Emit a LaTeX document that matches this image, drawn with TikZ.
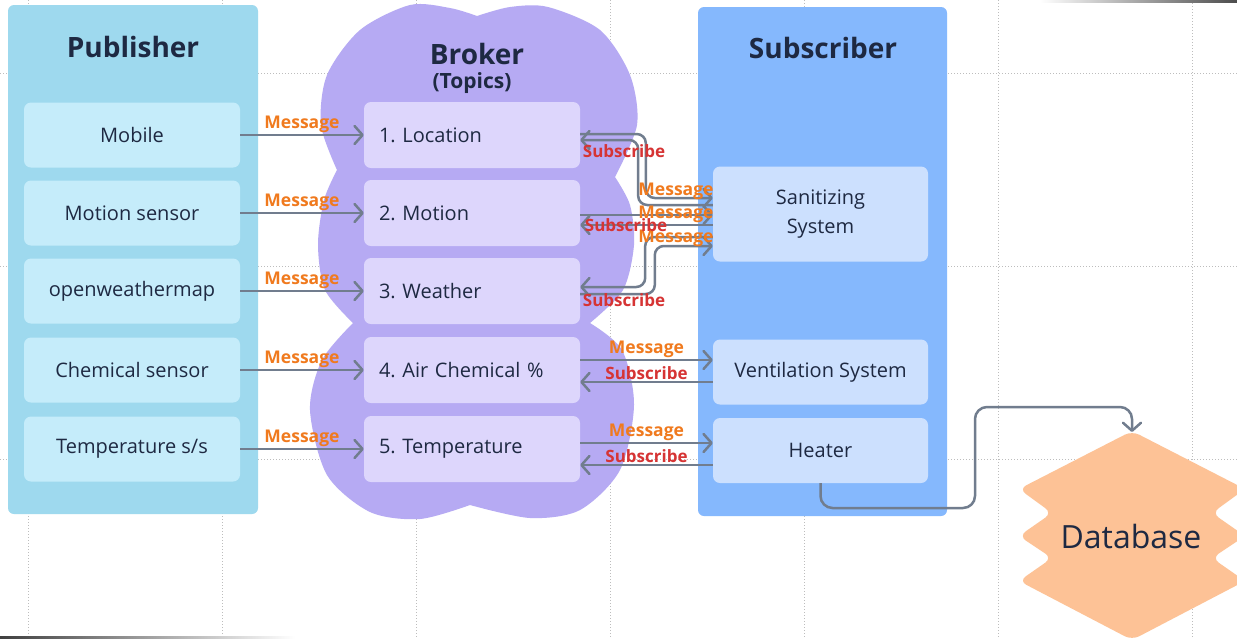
\documentclass[tikz,border=0pt]{standalone}
\usepackage{fontspec}
\setmainfont{Open Sans}
\usetikzlibrary{arrows.meta,calc}

\definecolor{pubpanel}{HTML}{9ED9EE}
\definecolor{pubitem}{HTML}{C5ECFA}
\definecolor{cloudfill}{HTML}{B6AAF3}
\definecolor{topicfill}{HTML}{DDD6FC}
\definecolor{subpanel}{HTML}{85B8FD}
\definecolor{subitem}{HTML}{CCE0FE}
\definecolor{dbfill}{HTML}{FDC296}
\definecolor{wire}{HTML}{717D8E}
\definecolor{msgorange}{HTML}{F07A1E}
\definecolor{subred}{HTML}{D63434}
\definecolor{ink}{HTML}{1E2942}
\definecolor{gridgray}{HTML}{BDBDBD}

\begin{document}
\frenchspacing
\begin{tikzpicture}[x=1pt, y=-1pt]
        % Define styles for the boxes and the arrows
        \tikzset{
            panel/.style={rounded corners=6pt, inner sep=0pt},
            paneltitle/.style={font=\fontsize{28}{32}\selectfont\bfseries, text=ink},
            pub item/.style={fill=pubitem, rounded corners=7pt, minimum width=216pt, minimum height=65pt, font=\fontsize{20}{24}\selectfont, text=ink},
            topic/.style={fill=topicfill, rounded corners=7pt, minimum height=66pt, text width=186pt, inner xsep=15pt, align=left, font=\fontsize{20}{24}\selectfont, text=ink},
            sub item/.style={fill=subitem, rounded corners=7pt, minimum width=215pt, minimum height=65pt, align=center, font=\fontsize{20}{29}\selectfont, text=ink},
            wire arrow/.style={-{Straight Barb[length=8pt,width=18pt,round]}, line width=2.5pt, draw=wire, rounded corners=9pt},
            msg/.style={text=msgorange, font=\fontsize{17.5}{20}\selectfont\bfseries, inner sep=1.5pt},
            sublabel/.style={text=subred, font=\fontsize{17}{20}\selectfont\bfseries, inner sep=1.5pt}
        }

        \useasboundingbox (0,0) rectangle (1237,638);
        \fill[white] (0,0) rectangle (1237,638);

        % Draw the dotted background grid
        \foreach \x in {28,222,...,1192}
            \draw[gridgray, dotted, line width=1pt] (\x,0) -- (\x,638);
        \foreach \y in {73,266,459}
            \draw[gridgray, dotted, line width=1pt] (0,\y) -- (1237,\y);
        \shade[left color=black!75, right color=white] (0,636) rectangle (295,638);
        \shade[left color=white, right color=black!70] (1040,0) rectangle (1237,2);

        % Draw the two panels and the broker cloud
        \node[panel, fill=pubpanel, minimum width=250pt, minimum height=509pt] (pub) at (133,259.5) {};
        \node[panel, fill=subpanel, minimum width=249pt, minimum height=509pt] (subs) at (822.5,261.5) {};
        \fill[cloudfill] plot[smooth] coordinates {(477,16) (510,7) (548,7) (600,30) (630,75) (637,125) (615,177)}
            -- plot[smooth] coordinates {(615,177) (630,205) (634,245) (623,290) (590,323)}
            -- plot[smooth] coordinates {(590,323) (622,350) (634,405) (620,470) (580,510) (530,518) (470,505)}
            -- plot[smooth] coordinates {(470,505) (420,519) (370,512) (327,475) (310,410) (322,360) (353,323)}
            -- plot[smooth] coordinates {(353,323) (325,290) (318,245) (324,200) (337,170)}
            -- plot[smooth] coordinates {(337,170) (321,125) (327,75) (360,30) (410,5) (450,8) (477,16)} -- cycle;

        % Titles
        \node[paneltitle] (pubtitle) at (133,47) {Publisher};
        \node[paneltitle] (brokertitle) at (477,54) {Broker};
        \node[text=ink, font=\fontsize{21}{24}\selectfont\bfseries] (topicstitle) at (472,83) {(Topics)};
        \node[paneltitle] (subtitle) at (823,48) {Subscriber};

        % Publishers and topics
        \foreach \n/\y/\t in {mobile/135/Mobile, motionsensor/213/Motion sensor, owm/291/openweathermap, chemsensor/370/Chemical sensor, tempss/449/{Temperature s/s}}
            \node[pub item] (\n) at (132,\y) {\t};
        \foreach \n/\y/\t in {loc/135/1. Location, motion/213/2. Motion, weather/291/3. Weather, airchem/370/4. Air Chemical \%, temp/449/5. Temperature}
            \node[topic] (\n) at (472,\y) {\t};

        % Subscribers and the database
        \node[sub item, minimum height=95pt] (sani) at (820.5,214) {Sanitizing\\System};
        \node[sub item] (vent) at (820.5,372) {Ventilation System};
        \node[sub item] (heater) at (820.5,450.5) {Heater};
        \fill[dbfill, rounded corners=8pt] (1132,431) -- (1019,489) -- (1052,513) -- (1019,536) -- (1052,558) -- (1019,581) -- (1132,640)
            -- (1245,581) -- (1212,558) -- (1245,536) -- (1212,513) -- (1245,489) -- cycle;
        \node[text=ink, font=\fontsize{32}{36}\selectfont] (db) at (1131,536) {Database};
        \coordinate (dbtop) at (1132,432);

        % Publisher to broker messages
        \foreach \p/\t in {mobile/loc, motionsensor/motion, owm/weather, chemsensor/airchem, tempss/temp}
            \draw[wire arrow] (\p) -- (\t) node[midway, above, msg] {Message};

        % Broker and sanitizing system
        \draw[wire arrow] ($(loc.east)+(0,-1)$) -| ($(sani.west)+(-67,-16)$) -- ($(sani.west)+(0,-16)$);
        \draw[wire arrow] ($(sani.west)+(0,-9)$) -| ($(loc.east)+(58,5)$) -- ($(loc.east)+(0,5)$);
        \draw[wire arrow] ($(motion.east)+(0,2)$) -- ($(sani.west)+(0,1)$);
        \draw[wire arrow] ($(sani.west)+(0,11)$) -- ($(motion.east)+(0,12)$);
        \draw[wire arrow] ($(sani.west)+(0,23)$) -| ($(weather.east)+(65,-4)$) -- ($(weather.east)+(0,-4)$);
        \draw[wire arrow] ($(weather.east)+(0,3)$) -| ($(sani.west)+(-58,32)$) -- ($(sani.west)+(0,32)$);
        \node[msg] (msgloc) at (676,191) {Message};
        \node[msg] (msgmotion) at (676,214) {Message};
        \node[msg] (msgweather) at (676,238) {Message};
        \node[sublabel] (subloc) at (624,151) {Subscribe};
        \node[sublabel] (submotion) at (626,225) {Subscribe};
        \node[sublabel] (subweather) at (624,300) {Subscribe};

        % Broker with ventilation and heater
        \draw[wire arrow] ($(airchem.east)+(0,-10)$) -- ($(vent.west)+(0,-12)$) node[midway, above, msg] {Message};
        \draw[wire arrow] ($(vent.west)+(0,10)$) -- ($(airchem.east)+(0,12)$) node[midway, above, sublabel] {Subscribe};
        \draw[wire arrow] ($(temp.east)+(0,-6)$) -- ($(heater.west)+(0,-7.5)$) node[midway, above, msg] {Message};
        \draw[wire arrow] ($(heater.west)+(0,14.5)$) -- ($(temp.east)+(0,16)$) node[midway, above, sublabel] {Subscribe};

        % Heater to database
        \draw[wire arrow, rounded corners=12pt] (heater.south) |- (975,508) -- (975,407) -| (dbtop);

    \end{tikzpicture}
\end{document}
